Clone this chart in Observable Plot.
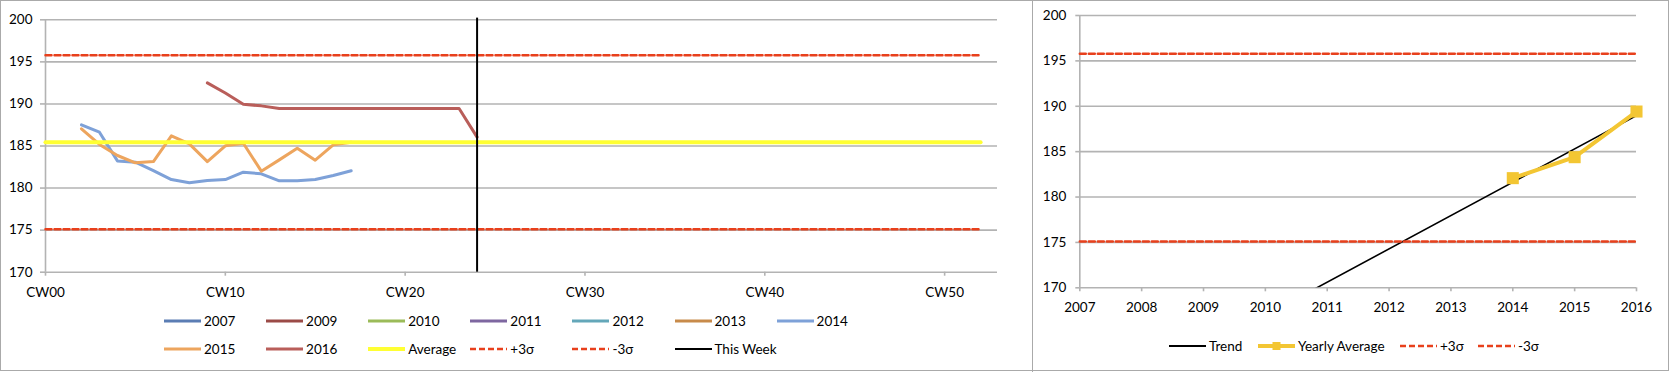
<!DOCTYPE html>
<html><head><meta charset="utf-8">
<script src="https://cdn.jsdelivr.net/npm/d3@7"></script>
<script src="https://cdn.jsdelivr.net/npm/@observablehq/plot@0.6"></script>
<style>
body{margin:0;background:#fff;}
#frame{position:relative;width:1669px;height:372px;overflow:hidden;font-family:Lato,"DejaVu Sans",sans-serif;color:#000;}
.box{position:absolute;left:0;top:0;width:1667px;height:369px;border:1px solid #aaaaaa;}
.div{position:absolute;left:1032px;top:0;width:1px;height:372px;background:#aaaaaa;}
.lg{position:absolute;display:flex;align-items:center;font-size:13.5px;height:18px;white-space:nowrap;}
.lg svg{margin-right:3px;}
</style></head><body>
<div id="frame">
  <div class="box"></div>
  <div class="div"></div>
  <div id="left" style="position:absolute;left:0;top:0"></div>
  <div id="right" style="position:absolute;left:1032px;top:0"></div>
</div>
<script>
// ---------- data ----------
const weeks2014 = [2,3,4,5,6,7,8,9,10,11,12,13,14,15,16,17];
const values2014 = [187.51,186.64,183.23,183.08,182.08,181.01,180.62,180.90,181.01,181.89,181.69,180.86,180.86,181.01,181.49,182.05];
const weeks2015 = [2,3,4,5,6,7,8,9,10,11,12,13,14,15,16,17];
const values2015 = [187.04,185.18,183.87,183.00,183.15,186.21,185.26,183.15,185.02,185.33,182.01,183.35,184.74,183.31,185.14,185.45];
const weeks2016 = [9,10,11,12,13,14,15,16,17,18,19,20,21,22,23,24];
const values2016 = [192.5,191.3,189.97,189.77,189.46,189.46,189.46,189.46,189.46,189.46,189.46,189.46,189.46,189.46,189.46,186.05];
const spanWeeks = [0, 52];
const averageValue = 185.45;
const plus3Sigma = 195.78;
const minus3Sigma = 175.10;
const thisWeek = 24;
const weekTicks = [0,10,20,30,40,50];
const weekTickLabels = ["CW00","CW10","CW20","CW30","CW40","CW50"];
const valueTicks = [170,175,180,185,190,195,200];

const years = [2007,2008,2009,2010,2011,2012,2013,2014,2015,2016];
const avgYears = [2014, 2015, 2016];
const yearlyAverage = [182.08, 184.39, 189.42];
const trendYears = [2007, 2016];
const trendValues = [155.94, 188.97];
const spanYears = [2007, 2016];

const seriesNames = ["2007","2009","2010","2011","2012","2013","2014","2015","2016"];
const seriesColors = ["#5b7db4","#9b4b47","#9bbb59","#7e67a0","#64a7b9","#c88b4b","#7ea1d8","#eda55e","#b95e5a"];
const colorOf = Object.fromEntries(seriesNames.map((n,i)=>[n, seriesColors[i]]));

const FONT = 'Lato,"DejaVu Sans",sans-serif';
const GRID = "#b3b3b3";
const SIGMA = "#e8401c";
const YELLOW = "#ffff33";
const GOLD = "#f3c633";

const pts = (xs, ys) => xs.map((x,i)=>({x, y: ys[i]}));

// ---------- left chart ----------
const left = Plot.plot({
  width: 1032, height: 300,
  marginLeft: 45, marginRight: 35, marginTop: 19.3, marginBottom: 28.3,
  style: {fontFamily: FONT, fontSize: "13px", color: "#000", background: "transparent"},
  x: {domain: [0, 52.94], axis: null},
  y: {domain: [170, 200], axis: null},
  marks: [
    Plot.gridY(valueTicks, {stroke: GRID, strokeOpacity: 1, strokeWidth: 1.6}),
    Plot.axisY(valueTicks, {label: null, tickSize: 5, tickPadding: 8, stroke: GRID, strokeWidth: 1.6, fill: "#000", fontSize: 13.5}),
    Plot.ruleX([0], {stroke: GRID, strokeWidth: 1.6}),
    Plot.axisX(weekTicks, {label: null, tickSize: 4, tickPadding: 11, stroke: GRID, strokeWidth: 1.6, fill: "#000", fontSize: 13.5,
      tickFormat: (d) => weekTickLabels[weekTicks.indexOf(d)]}),
    Plot.line(pts(weeks2014, values2014), {x: "x", y: "y", stroke: colorOf["2014"], strokeWidth: 3}),
    Plot.line(pts(weeks2015, values2015), {x: "x", y: "y", stroke: colorOf["2015"], strokeWidth: 3}),
    Plot.line(pts(weeks2016, values2016), {x: "x", y: "y", stroke: colorOf["2016"], strokeWidth: 3}),
    Plot.line(pts(spanWeeks, spanWeeks.map(()=>averageValue)), {x: "x", y: "y", stroke: YELLOW, strokeWidth: 4}),
    Plot.line(pts(spanWeeks, spanWeeks.map(()=>plus3Sigma)), {x: "x", y: "y", stroke: SIGMA, strokeWidth: 2.5, strokeDasharray: "6,3"}),
    Plot.line(pts(spanWeeks, spanWeeks.map(()=>minus3Sigma)), {x: "x", y: "y", stroke: SIGMA, strokeWidth: 2.5, strokeDasharray: "6,3"}),
    Plot.ruleX([thisWeek], {y1: 170, y2: 200.2, stroke: "#000", strokeWidth: 2})
  ]
});
document.getElementById("left").appendChild(left);

// ---------- right chart ----------
const right = Plot.plot({
  width: 637, height: 320,
  marginLeft: 47.3, marginRight: 33, marginTop: 15, marginBottom: 32.7,
  style: {fontFamily: FONT, fontSize: "13px", color: "#000", background: "transparent"},
  x: {domain: [2007, 2016], axis: null},
  y: {domain: [170, 200], axis: null},
  marks: [
    Plot.gridY(valueTicks, {stroke: GRID, strokeOpacity: 1, strokeWidth: 1.6}),
    Plot.axisY(valueTicks, {label: null, tickSize: 4, tickPadding: 9.5, stroke: GRID, strokeWidth: 1.6, fill: "#000", fontSize: 13.5}),
    Plot.ruleX([2007], {stroke: GRID, strokeWidth: 1.6}),
    Plot.axisX(years, {label: null, tickSize: 4, tickPadding: 11, stroke: GRID, strokeWidth: 1.6, fill: "#000", fontSize: 13.5, tickFormat: (d) => String(d)}),
    Plot.line(pts(trendYears, trendValues), {x: "x", y: "y", stroke: "#000", strokeWidth: 1.6, clip: true}),
    Plot.line(pts(avgYears, yearlyAverage), {x: "x", y: "y", stroke: GOLD, strokeWidth: 4}),
    Plot.dot(pts(avgYears, yearlyAverage), {x: "x", y: "y", symbol: "square", r: 6.8, fill: GOLD, stroke: "none"}),
    Plot.line(pts(spanYears, spanYears.map(()=>plus3Sigma)), {x: "x", y: "y", stroke: SIGMA, strokeWidth: 2.5, strokeDasharray: "6,3"}),
    Plot.line(pts(spanYears, spanYears.map(()=>minus3Sigma)), {x: "x", y: "y", stroke: SIGMA, strokeWidth: 2.5, strokeDasharray: "6,3"})
  ]
});
document.getElementById("right").appendChild(right);

// ---------- legends ----------
const frame = document.getElementById("frame");
function swatch(kind, color) {
  const ns = "http://www.w3.org/2000/svg";
  const s = document.createElementNS(ns, "svg");
  s.setAttribute("width", 37); s.setAttribute("height", 12);
  const l = document.createElementNS(ns, "line");
  l.setAttribute("x1", 0); l.setAttribute("x2", 37); l.setAttribute("y1", 6); l.setAttribute("y2", 6);
  l.setAttribute("stroke", color);
  l.setAttribute("stroke-width", kind === "thin" ? 2.2 : kind === "dash" ? 2.5 : kind === "thick" ? 4 : 3);
  if (kind === "dash") l.setAttribute("stroke-dasharray", "6,3");
  s.appendChild(l);
  if (kind === "marker") {
    l.setAttribute("stroke-width", 4);
    const r = document.createElementNS(ns, "rect");
    r.setAttribute("x", 14.5); r.setAttribute("y", 2); r.setAttribute("width", 8); r.setAttribute("height", 8);
    r.setAttribute("fill", color);
    s.appendChild(r);
  }
  return s;
}
function item(x, yc, label, kind, color) {
  const d = document.createElement("div");
  d.className = "lg";
  d.style.left = x + "px"; d.style.top = (yc - 9) + "px";
  d.appendChild(swatch(kind, color));
  const t = document.createElement("span"); t.textContent = label;
  d.appendChild(t);
  frame.appendChild(d);
}
const leftItems = [
  ...seriesNames.map(n => [n, "line", colorOf[n]]),
  ["Average", "thick", YELLOW], ["+3σ", "dash", SIGMA], ["-3σ", "dash", SIGMA], ["This Week", "thin", "#000"]
];
leftItems.forEach((it, i) => {
  const row = i < 7 ? 0 : 1, col = i < 7 ? i : i - 7;
  item(164 + col * 102.1, row === 0 ? 321 : 349, it[0], it[1], it[2]);
});
const rightItems = [["Trend", "thin", "#000", 1169], ["Yearly Average", "marker", GOLD, 1258], ["+3σ", "dash", SIGMA, 1400], ["-3σ", "dash", SIGMA, 1478]];
rightItems.forEach(it => item(it[3], 346, it[0], it[1], it[2]));
</script>
</body></html>
